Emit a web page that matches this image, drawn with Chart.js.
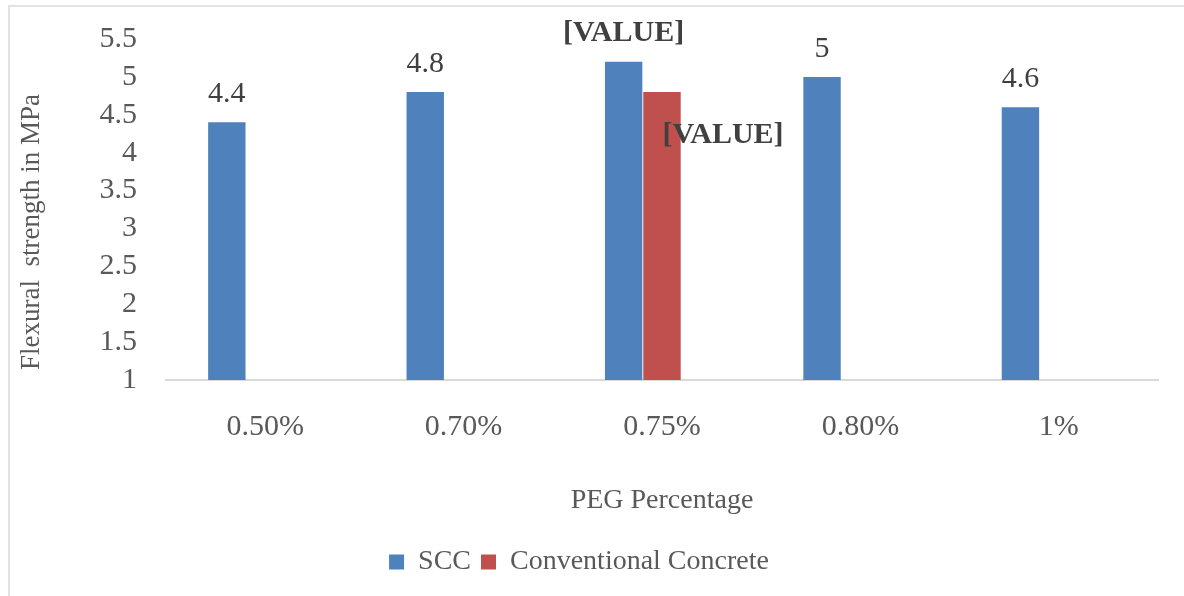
<!DOCTYPE html>
<html>
<head>
<meta charset="utf-8">
<script src="https://cdn.jsdelivr.net/npm/chart.js@4/dist/chart.umd.min.js"></script>
<style>
  html, body { margin: 0; padding: 0; background: #ffffff; }
  #wrap { width: 1184px; height: 596px; position: relative; }
</style>
</head>
<body>
<div id="wrap"><canvas id="c" width="1184" height="596"></canvas></div>
<script>
// ---- data ----
const categories = ['0.50%', '0.70%', '0.75%', '0.80%', '1%'];
const sccValues = [4.4, 4.8, 5.2, 5, 4.6];
const conventionalValues = [null, null, 4.8, null, null];
const series3Values = [null, null, null, null, null];
const sccLabels = ['4.4', '4.8', '[VALUE]', '5', '4.6'];
const conventionalLabels = [null, null, '[VALUE]', null, null];
const yTicks = { min: 1, max: 5.5, step: 0.5 };

const SERIF = '"Liberation Serif", "Times New Roman", serif';

const frameBorder = {
  id: 'frameBorder',
  beforeDraw(chart) {
    const ctx = chart.ctx;
    ctx.save();
    ctx.fillStyle = '#ffffff';
    ctx.fillRect(0, 0, chart.width, chart.height);
    ctx.strokeStyle = '#D9D9D9';
    ctx.lineWidth = 1.5;
    ctx.strokeRect(9, 6, chart.width + 20, chart.height + 20);
    ctx.restore();
  }
};

const yTitle = {
  id: 'yTitle',
  afterDraw(chart, args, opts) {
    const ctx = chart.ctx;
    ctx.save();
    ctx.translate(opts.x, opts.y);
    ctx.rotate(-Math.PI / 2);
    ctx.font = '27px ' + SERIF;
    ctx.fillStyle = '#595959';
    ctx.textAlign = 'center';
    ctx.textBaseline = 'middle';
    ctx.fillText(opts.text, 0, 0);
    ctx.restore();
  }
};

const valueLabels = {
  id: 'valueLabels',
  afterDatasetsDraw(chart, args, opts) {
    const ctx = chart.ctx;
    ctx.save();
    ctx.textAlign = 'center';
    ctx.textBaseline = 'middle';
    ctx.fillStyle = '#404040';
    chart.data.datasets.forEach((ds, di) => {
      const labels = ds.valueLabels;
      if (!labels) return;
      const meta = chart.getDatasetMeta(di);
      meta.data.forEach((el, i) => {
        const t = labels[i];
        if (t == null || ds.data[i] == null) return;
        const off = (opts.offsets[di] && opts.offsets[di][i]) || { dx: 0, dy: -opts.gap };
        ctx.font = (t === '[VALUE]' ? 'bold ' : '') + '30px ' + SERIF;
        ctx.fillText(t, el.x + off.dx, el.y + off.dy);
      });
    });
    ctx.restore();
  }
};

new Chart(document.getElementById('c'), {
  type: 'bar',
  data: {
    labels: categories,
    datasets: [
      { label: 'SCC', data: sccValues, valueLabels: sccLabels, backgroundColor: '#4F81BD', borderWidth: 0 },
      { label: 'Conventional Concrete', data: conventionalValues, valueLabels: conventionalLabels, backgroundColor: '#C0504D', borderWidth: 0 },
      { label: 'Series3', data: series3Values, backgroundColor: '#9BBB59', borderWidth: 0 }
    ]
  },
  plugins: [frameBorder, yTitle, valueLabels],
  options: {
    responsive: false,
    animation: false,
    devicePixelRatio: 1,
    layout: { padding: { top: 39, right: 26, bottom: 10, left: 0 } },
    datasets: { bar: { categoryPercentage: 0.58, barPercentage: 0.975 } },
    scales: {
      x: {
        grid: { display: false, drawTicks: false },
        border: { display: true, color: '#D9D9D9', width: 2 },
        ticks: { padding: 29, color: '#595959', font: { family: SERIF, size: 30 } },
        title: { display: true, text: 'PEG Percentage', color: '#595959', font: { family: SERIF, size: 28 }, padding: { top: 0, bottom: 21 } },
        afterFit(scale) { scale.height = 158; scale.paddingLeft = 0; scale.paddingRight = 0; }
      },
      y: {
        min: yTicks.min, max: yTicks.max,
        grid: { display: false, drawTicks: false },
        border: { display: false },
        ticks: {
          stepSize: yTicks.step, autoSkip: false, padding: 29, color: '#595959',
          font: { family: SERIF, size: 30 },
          callback: (v) => String(v)
        },
        afterFit(scale) { scale.width = 166; scale.paddingTop = 0; scale.paddingBottom = 0; }
      }
    },
    plugins: {
      legend: {
        position: 'bottom',
        labels: {
          boxWidth: 15, boxHeight: 15, padding: 10,
          color: '#595959', font: { family: SERIF, size: 28 },
          filter: (item) => item.text !== 'Series3'
        }
      },
      tooltip: { enabled: false },
      yTitle: { text: 'Flexural  strength in MPa', x: 32, y: 232 },
      valueLabels: { gap: 28, offsets: { 1: { 2: { dx: 61, dy: 43 } } } }
    }
  }
});
</script>
</body>
</html>
